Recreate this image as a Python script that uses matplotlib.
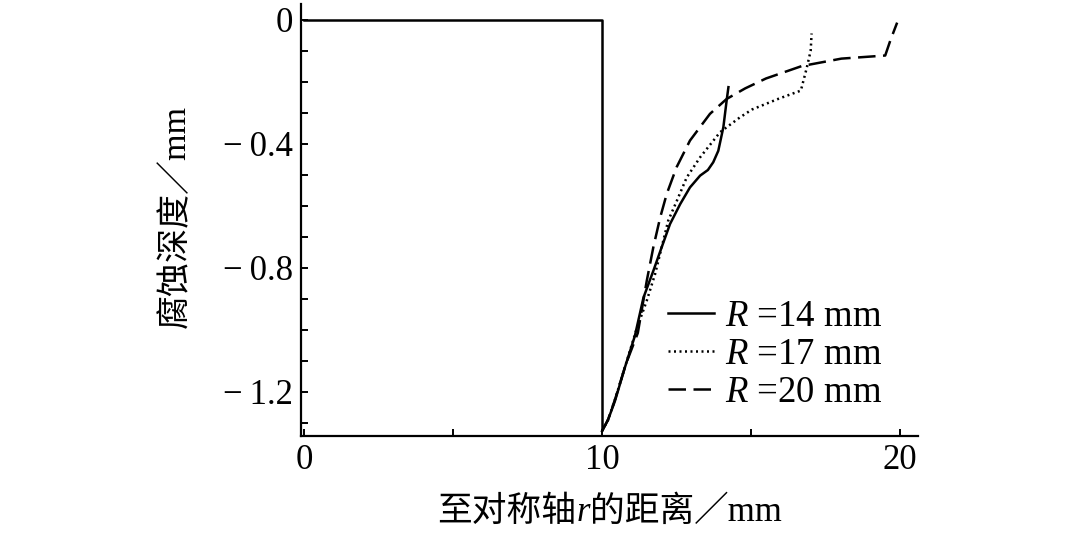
import numpy as np
import matplotlib
matplotlib.use("Agg")
import matplotlib.pyplot as plt
from matplotlib.ticker import MultipleLocator, FixedLocator

plt.rcParams['font.family'] = ['Liberation Serif', 'Noto Sans CJK SC']
plt.rcParams['mathtext.fontset'] = 'custom'
plt.rcParams['mathtext.rm'] = 'Liberation Serif'
plt.rcParams['mathtext.it'] = 'Liberation Serif:italic'

# original surface profile (flat up to r = 10, then the pit wall)
base_r = [0, 10, 10]
base_depth = [0, 0, -1.32]

# R = 14 mm
r14 = [10.0, 10.2, 10.43, 10.77, 11.1, 11.39, 11.72, 12.0, 12.28, 12.62, 12.95, 13.29, 13.55, 13.73, 13.9, 14.07, 14.18, 14.24]
d14 = [-1.326, -1.29, -1.23, -1.12, -1.02, -0.896, -0.81, -0.734, -0.659, -0.595, -0.541, -0.503, -0.485, -0.46, -0.423, -0.347, -0.261, -0.218]

# R = 17 mm
r17 = [10.0, 10.2, 10.45, 10.8, 11.15, 11.5, 11.78, 12.0, 12.22, 12.51, 12.84, 13.29, 13.96, 14.63, 15.03, 15.93, 16.67, 16.87, 17.0, 17.03]
d17 = [-1.326, -1.29, -1.22, -1.11, -1.0, -0.906, -0.82, -0.734, -0.648, -0.584, -0.509, -0.444, -0.363, -0.315, -0.29, -0.255, -0.229, -0.155, -0.10, -0.045]

# R = 20 mm
r20 = [10.0, 10.2, 10.45, 10.8, 11.2, 11.5, 11.72, 11.95, 12.17, 12.5, 12.95, 13.62, 14.18, 14.8, 15.5, 16.7, 18.03, 19.5, 19.67, 19.9]
d20 = [-1.326, -1.29, -1.22, -1.11, -1.01, -0.842, -0.734, -0.638, -0.562, -0.476, -0.39, -0.304, -0.256, -0.222, -0.19, -0.15, -0.126, -0.116, -0.068, -0.01]

labels = ['$R$ =14 mm', '$R$ =17 mm', '$R$ =20 mm']

fig = plt.figure(figsize=(10.8, 5.34), dpi=100)
ax = fig.add_axes([301/1080, 1-436/534, 617/1080, 432/534])

lw = 1.8
ax.plot(base_r, base_depth, color='black', lw=lw)
l1, = ax.plot(r14, d14, color='black', lw=lw, ls='-')
l2, = ax.plot(r17, d17, color='black', lw=lw, ls=(0, (0.8, 1.4)))
l3, = ax.plot(r20, d20, color='black', lw=lw, ls=(0, (7, 3)))

ax.set_xlim(-0.1, 20.6)
ax.set_ylim(-1.342, 0.05)

ax.xaxis.set_major_locator(FixedLocator([0, 10, 20]))
ax.xaxis.set_minor_locator(FixedLocator([5, 15]))
ax.yaxis.set_major_locator(FixedLocator([0, -0.4, -0.8, -1.2]))
ax.yaxis.set_minor_locator(MultipleLocator(0.1))
ax.set_xticklabels(['0', '10', '20'])
ax.set_yticklabels(['0', '\u2212\u20090.4', '\u2212\u20090.8', '\u2212\u20091.2'])
ax.tick_params(which='both', direction='in', length=5, width=1.4, labelsize=25)
ax.tick_params(axis='y', pad=6)
ax.tick_params(axis='x', pad=6)

for s in ['top', 'right']:
    ax.spines[s].set_visible(False)
for s in ['left', 'bottom']:
    ax.spines[s].set_linewidth(1.6)

leg = ax.legend([l1, l2, l3], labels, loc='upper left', frameon=False, fontsize=26.5,
                bbox_to_anchor=(668/1080, 1-299/534), bbox_transform=fig.transFigure,
                handlelength=1.25, handletextpad=0.3, labelspacing=0.1,
                borderpad=0, borderaxespad=0)

# y label
fig.text(176/1080, 1-217/534, '腐蚀深度／mm', rotation=90, ha='center', va='center', fontsize=24.5)

# x label built from pieces so that r can be italic
fig.canvas.draw()
r = fig.canvas.get_renderer()
parts = [('至对称轴', {}), ('r', {'style': 'italic'}), ('的距离', {}), ('／mm', {})]
objs = [fig.text(0, 1-521/534, s, fontsize=25, va='baseline', **kw) for s, kw in parts]
widths = [t.get_window_extent(r).width for t in objs]
x0 = 610 - sum(widths)/2
for t, w in zip(objs, widths):
    t.set_x(x0/1080)
    x0 += w

fig.savefig('out.png', dpi=100)
